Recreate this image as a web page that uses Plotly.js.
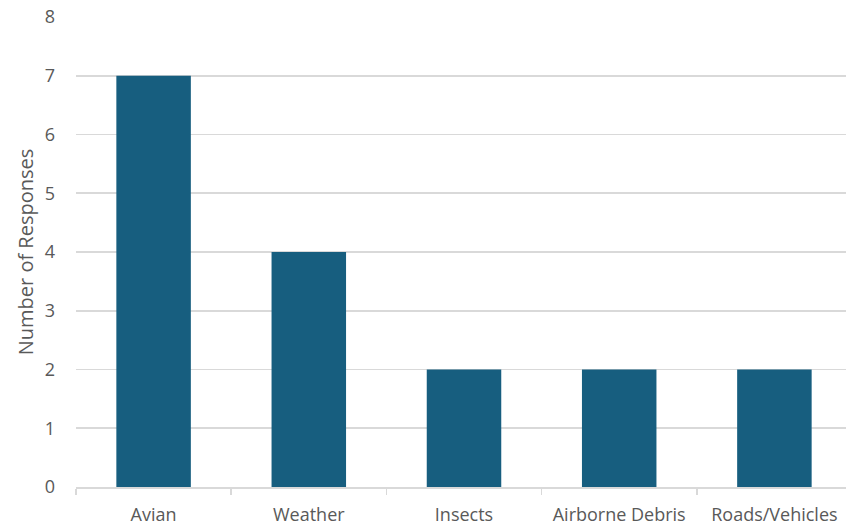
<!DOCTYPE html>
<html>
<head>
<meta charset="utf-8">
<script src="https://cdn.plot.ly/plotly-3.0.1.min.js"></script>
<style>
  html, body { margin: 0; padding: 0; overflow: hidden; background: #ffffff; }
  #chart { width: 860px; height: 526px; }
</style>
</head>
<body>
<div id="chart"></div>
<script>
// Reported threat sources and how many responses named each one
const categories = ["Avian", "Weather", "Insects", "Airborne Debris", "Roads/Vehicles"];
const responses = [7, 4, 2, 2, 2];
const yTicks = [0, 1, 2, 3, 4, 5, 6, 7, 8];

const textColor = "#595959";
const lineColor = "#d9d9d9";
const barColor = "#175e7f";
const fontFamily = "Open Sans, sans-serif";

const trace = {
  type: "bar",
  x: categories,
  y: responses,
  marker: { color: barColor, line: { width: 0 } },
  hoverinfo: "x+y"
};

const layout = {
  width: 860,
  height: 526,
  margin: { l: 76, r: 8, t: 17, b: 39 },
  paper_bgcolor: "#ffffff",
  plot_bgcolor: "#ffffff",
  bargap: 0.52,
  showlegend: false,
  font: { family: fontFamily, size: 18, color: textColor },
  xaxis: {
    type: "category",
    showline: true,
    linecolor: lineColor,
    linewidth: 1.5,
    ticks: "outside",
    tickson: "boundaries",
    ticklen: 6,
    tickwidth: 1.5,
    tickcolor: lineColor,
    showgrid: false,
    ticklabelstandoff: 11,
    tickfont: { family: fontFamily, size: 18, color: textColor }
  },
  yaxis: {
    range: [0, 8],
    tickvals: yTicks,
    ticktext: yTicks.map(String),
    showgrid: true,
    gridcolor: lineColor,
    gridwidth: 1.8,
    zeroline: false,
    showline: false,
    ticks: "",
    ticklabelstandoff: 20,
    tickfont: { family: fontFamily, size: 18, color: textColor },
    title: {
      text: "Number of Responses",
      standoff: 5,
      font: { family: fontFamily, size: 20, color: textColor }
    }
  }
};

Plotly.newPlot("chart", [trace], layout, { displayModeBar: false, staticPlot: true });
</script>
</body>
</html>
